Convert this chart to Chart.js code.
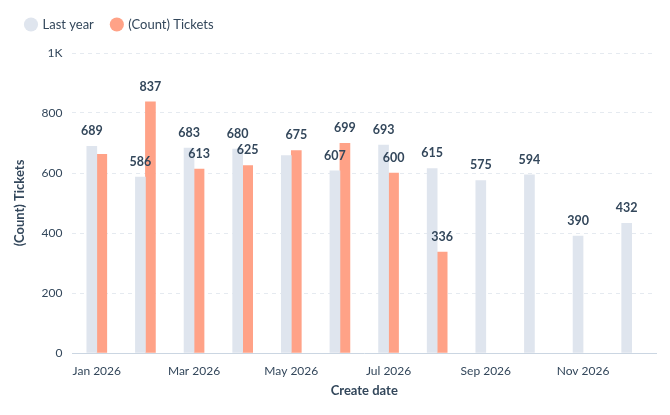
<!DOCTYPE html>
<html>
<head>
<meta charset="utf-8">
<script src="https://cdn.jsdelivr.net/npm/chart.js@4"></script>
<style>
  body { margin: 0; background: #fff; }
  #wrap { width: 670px; height: 415px; }
</style>
</head>
<body>
<div id="wrap"><canvas id="chart"></canvas></div>
<script>
const months = ['Jan 2026', 'Feb 2026', 'Mar 2026', 'Apr 2026', 'May 2026', 'Jun 2026',
                'Jul 2026', 'Aug 2026', 'Sep 2026', 'Oct 2026', 'Nov 2026', 'Dec 2026'];
const lastYear = [689, 586, 683, 680, 658, 607, 693, 615, 575, 594, 390, 432];
const tickets = [662, 837, 613, 625, 675, 699, 600, 336, null, null, null, null];
// labels hidden in the reference where they would collide
const hiddenLastYear = [4];
const hiddenTickets = [0];

const textColor = '#33475b';
const font = "Lato, 'Noto Sans', sans-serif";

const valueLabels = {
    id: 'valueLabels',
    afterDatasetsDraw(chart) {
        const ctx = chart.ctx;
        ctx.save();
        ctx.font = `bold 12.5px ${font}`;
        ctx.fillStyle = textColor;
        ctx.textAlign = 'center';
        ctx.textBaseline = 'bottom';
        chart.data.datasets.forEach((ds, di) => {
            const hidden = di === 0 ? hiddenLastYear : hiddenTickets;
            chart.getDatasetMeta(di).data.forEach((bar, i) => {
                if (ds.data[i] == null || hidden.includes(i)) return;
                ctx.fillText(ds.data[i], bar.x, bar.y - 9);
            });
        });
        ctx.restore();
    }
};

// extra room under the legend
const legendSpace = {
    id: 'legendSpace',
    beforeInit(chart) {
        const fit = chart.legend.fit;
        chart.legend.fit = function () {
            fit.bind(chart.legend)();
            this.height += 12;
        };
    }
};

new Chart(document.getElementById('chart').getContext('2d'), {
    type: 'bar',
    data: {
        labels: months,
        datasets: [{
            label: 'Last year',
            data: lastYear,
            backgroundColor: '#dfe5ee',
            barThickness: 10,
            categoryPercentage: 0.68
        }, {
            label: '(Count) Tickets',
            data: tickets,
            backgroundColor: '#ffa287',
            barThickness: 10,
            categoryPercentage: 0.68
        }]
    },
    options: {
        responsive: true,
        maintainAspectRatio: false,
        animation: false,
        layout: { padding: { left: 8, right: 14, bottom: 12 } },
        plugins: {
            legend: {
                position: 'top',
                align: 'start',
                labels: {
                    usePointStyle: true,
                    pointStyle: 'circle',
                    boxWidth: 10,
                    boxHeight: 10,
                    padding: 18,
                    color: textColor,
                    font: { family: font, size: 13 }
                }
            },
            tooltip: { enabled: false }
        },
        scales: {
            x: {
                grid: { display: false },
                border: { color: '#cbd6e2' },
                ticks: {
                    color: textColor,
                    font: { family: font, size: 12 },
                    maxRotation: 0,
                    autoSkip: false,
                    callback: function (v, i) { return i % 2 === 0 ? this.getLabelForValue(v) : ''; }
                },
                title: {
                    display: true,
                    text: 'Create date',
                    color: textColor,
                    padding: { top: 2 },
                    font: { family: font, size: 13, weight: 'bold' }
                }
            },
            y: {
                min: 0,
                max: 1000,
                grid: { color: '#e5eaf0', drawTicks: false },
                border: { display: false, dash: [4, 4] },
                ticks: {
                    stepSize: 200,
                    padding: 10,
                    color: textColor,
                    font: { family: font, size: 12 },
                    callback: v => v === 1000 ? '1K' : v
                },
                title: {
                    display: true,
                    text: '(Count) Tickets',
                    color: textColor,
                    font: { family: font, size: 13, weight: 'bold' }
                }
            }
        }
    },
    plugins: [valueLabels, legendSpace]
});
</script>
</body>
</html>
